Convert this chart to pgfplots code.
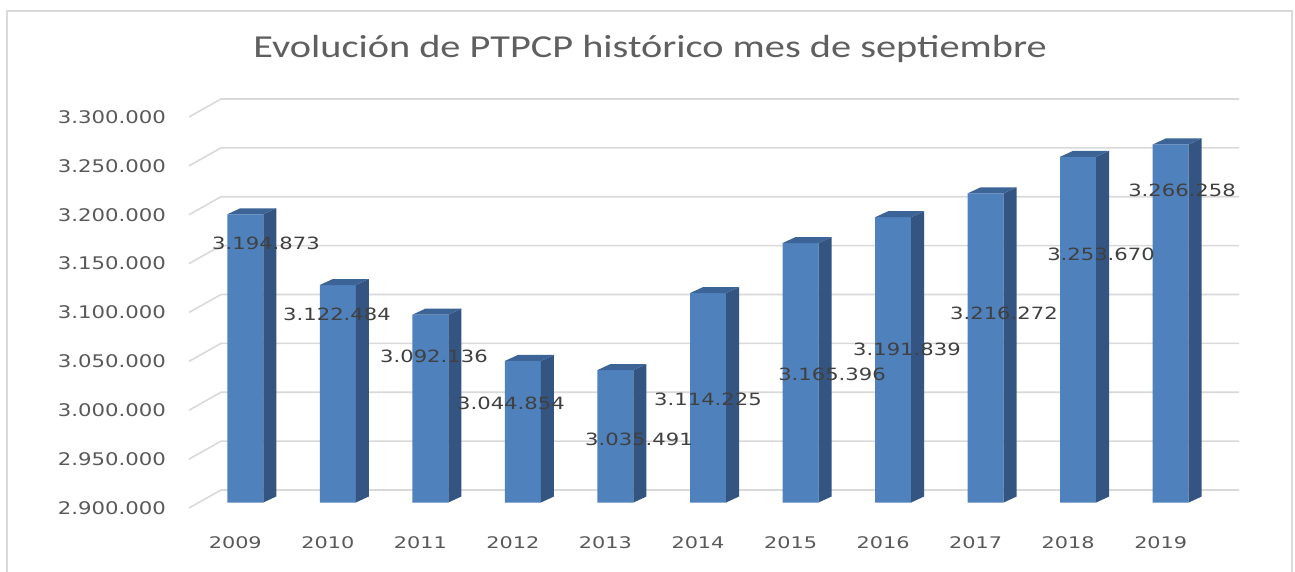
\documentclass[border=0pt]{standalone}
\usepackage{fontspec}
\setmainfont{DejaVu Sans}
\newfontfamily\titlefont{Carlito}[FakeStretch=1.26]
\newfontfamily\tickfont{DejaVu Sans}[FakeStretch=1.22]
\newfontfamily\yearfont{DejaVu Sans}[FakeStretch=1.3]
\newfontfamily\labfont{DejaVu Sans}[FakeStretch=1.25]
\usepackage{pgfplots}
\usepackage{pgfplotstable}
\pgfplotsset{compat=1.18}
\definecolor{barfront}{HTML}{4F81BD}
\definecolor{barside}{HTML}{345582}
\definecolor{bartop}{HTML}{3C6496}
\definecolor{gridc}{HTML}{D9D9D9}
\definecolor{tickc}{HTML}{595959}
\definecolor{titlec}{HTML}{5F5F5F}
\definecolor{labc}{HTML}{404040}

% x: category index, v: value, lx/ly: data label position, lab: label text
\pgfplotstableread{
x year v lx ly lab
0 2009 3194873 0.224 3165474 3.194.873
1 2010 3122484 0.991 3092840 3.122.484
2 2011 3092136 2.039 3049872 3.092.136
3 2012 3044854 2.871 3001790 3.044.854
4 2013 3035491 4.254 2964962 3.035.491
5 2014 3114225 5.000 3005882 3.114.225
6 2015 3165396 6.340 3031458 3.165.396
7 2016 3191839 7.150 3057034 3.191.839
8 2017 3216272 8.198 3093863 3.216.272
9 2018 3253670 9.247 3154221 3.253.670
10 2019 3266258 10.122 3219694 3.266.258
}\datatable

\begin{document}
\begin{tikzpicture}
\useasboundingbox (0pt,0pt) rectangle (1295pt,571pt);
\fill[white] (0pt,0pt) rectangle (1295pt,571pt);
\draw[gridc, line width=2pt] (7pt,-20pt) rectangle (1292pt,560pt);
\node[anchor=base, text=titlec, font=\titlefont\fontsize{32}{36}\selectfont, inner sep=0pt] at (650pt,513.7pt) {Evolución de PTPCP histórico mes de septiembre};
\begin{axis}[
  at={(199pt,68.5pt)}, anchor=south west,
  scale only axis, width=1018pt, height=391pt,
  xmin=-0.5, xmax=10.5, ymin=2900000, ymax=3300000,
  scaled y ticks=false,
  clip mode=individual,
  axis line style={draw=none},
  tick style={draw=none},
  xtick={0,1,2,3,4,5,6,7,8,9,10},
  xticklabels from table={\datatable}{year},
  ytick={2900000,2950000,3000000,3050000,3100000,3150000,3200000,3250000,3300000},
  yticklabels={2.900.000,2.950.000,3.000.000,3.050.000,3.100.000,3.150.000,3.200.000,3.250.000,3.300.000},
  xticklabel style={anchor=center, inner sep=0pt, yshift=-40.5pt, xshift=-10pt, text=tickc, font=\yearfont\fontsize{16}{18}\selectfont},
  yticklabel style={anchor=east, inner sep=0pt, xshift=-33pt, yshift=-5.5pt, text=tickc, font=\tickfont\fontsize{17.4}{19}\selectfont},
]
% gridlines: left wall diagonal + back wall
\pgfplotsinvokeforeach{2900000,2950000,3000000,3050000,3100000,3150000,3200000,3250000,3300000}{
  \draw[gridc, line width=1.6pt] ([xshift=-10pt,yshift=-5.5pt]axis cs:-0.5,#1) -- ([xshift=22pt,yshift=12.5pt]axis cs:-0.5,#1) -- ([xshift=22pt,yshift=12.5pt]axis cs:10.5,#1);
}
% front faces of the columns
\addplot[ybar, bar width=36pt, fill=barfront, draw=none] table[x=x, y=v] {\datatable};
% side and top faces
\pgfplotsinvokeforeach{0,...,10}{
  \pgfplotstablegetelem{#1}{v}\of\datatable
  \edef\tmp{%
    \noexpand\fill[barside] ([xshift=18pt]axis cs:#1,2900000) -- ([xshift=18pt]axis cs:#1,\pgfplotsretval) -- ([xshift=31pt,yshift=6pt]axis cs:#1,\pgfplotsretval) -- ([xshift=31pt,yshift=6pt]axis cs:#1,2900000) -- cycle;%
    \noexpand\fill[bartop] ([xshift=-18pt]axis cs:#1,\pgfplotsretval) -- ([xshift=18pt]axis cs:#1,\pgfplotsretval) -- ([xshift=31pt,yshift=6pt]axis cs:#1,\pgfplotsretval) -- ([xshift=-5pt,yshift=6pt]axis cs:#1,\pgfplotsretval) -- cycle;%
  }\tmp
}
% data labels
\addplot[draw=none, mark=none, point meta=explicit symbolic,
  nodes near coords={\pgfplotspointmeta},
  every node near coord/.style={anchor=center, inner sep=0pt, text=labc, font=\labfont\fontsize{16.9}{19}\selectfont}]
  table[x=lx, y=ly, meta=lab] {\datatable};
\end{axis}
\end{tikzpicture}
\end{document}
